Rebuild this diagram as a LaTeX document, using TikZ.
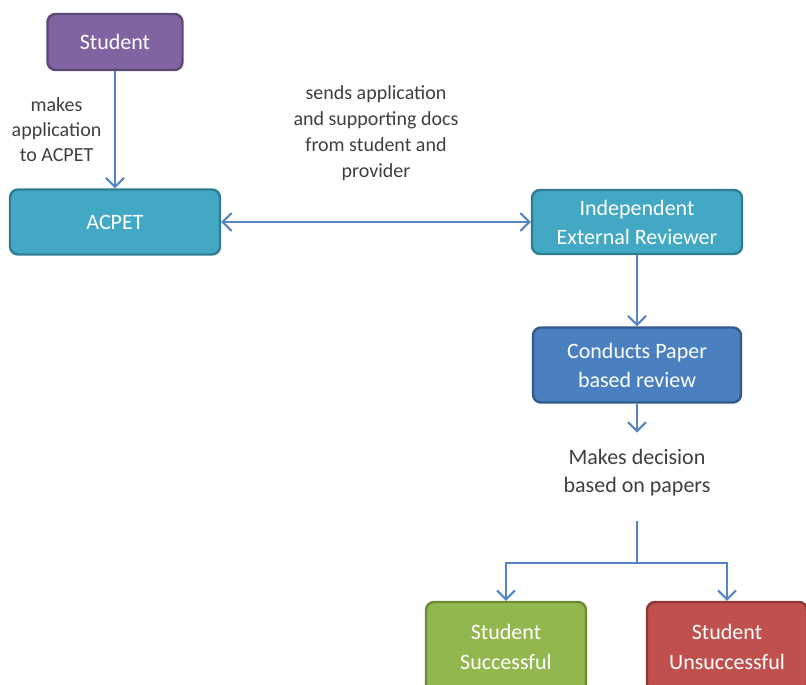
\documentclass[tikz,border=0pt]{standalone}
\usepackage{fontspec}
\setmainfont{Carlito}
\usetikzlibrary{positioning,arrows.meta}

\definecolor{stupurple}{HTML}{8064A2}
\definecolor{stupurpledark}{HTML}{5C4776}
\definecolor{acpetteal}{HTML}{43A8C4}
\definecolor{acpettealdark}{HTML}{2F7D92}
\definecolor{reviewblue}{HTML}{4A7FC0}
\definecolor{reviewbluedark}{HTML}{31598C}
\definecolor{succgreen}{HTML}{93B74F}
\definecolor{succgreendark}{HTML}{6C8B37}
\definecolor{failred}{HTML}{C0504D}
\definecolor{failreddark}{HTML}{8C3836}
\definecolor{flowblue}{HTML}{5585C4}
\definecolor{notegray}{HTML}{3F3F3F}

\begin{document}
\begin{tikzpicture}[x=0.5pt,y=-0.5pt,node distance=90pt,>={Straight Barb[length=4.5pt,width=9pt]}]
  \tikzstyle{every node}=[font=\fontsize{11}{14.5}\selectfont]
  \tikzstyle{box}=[draw,rounded corners=4pt,line width=1.2pt,text=white,align=center,inner sep=2pt]
  \tikzstyle{flow}=[draw=flowblue,line width=1pt]
  \tikzstyle{note}=[text=notegray,align=center]
  \useasboundingbox (0,0) rectangle (806,684);
  \clip (0,0) rectangle (806,684);
  \node[box,fill=stupurple,draw=stupurpledark,minimum width=67.5pt,minimum height=28pt] (student) at (115,42) {Student};
  \node[box,fill=acpetteal,draw=acpettealdark,minimum width=105pt,minimum height=32.5pt] (acpet) [below of=student] {ACPET};
  \node[box,fill=acpetteal,draw=acpettealdark,minimum width=105pt,minimum height=32pt] (ier) [right of=acpet,node distance=261pt] {Independent\\External Reviewer};
  \node[box,fill=reviewblue,draw=reviewbluedark,minimum width=104pt,minimum height=37.5pt] (review) [below of=ier,node distance=71.5pt] {Conducts Paper\\based review};
  \node[note,font=\fontsize{11}{14}\selectfont] (decision) [below of=review,node distance=54pt] {Makes decision\\based on papers};
  \coordinate (split) at (637,563);
  \node[box,fill=succgreen,draw=succgreendark,minimum width=80pt,minimum height=45pt,font=\fontsize{11}{15}\selectfont] (succ) at (506,647) {Student\\Successful};
  \node[box,fill=failred,draw=failreddark,minimum width=80pt,minimum height=45pt,font=\fontsize{11}{15}\selectfont] (unsucc) at (727,647) {Student\\Unsuccessful};
  \path[->,flow]
  (student) edge node[note,left=3pt,font=\fontsize{10}{12.5}\selectfont] {makes\\application\\to ACPET} (acpet)
  (acpet) edge[<->] node[note,above=17pt,font=\fontsize{10}{13}\selectfont] {sends application\\and supporting docs\\from student and\\provider} (ier)
  (ier) edge (review)
  (review) edge[shorten >=5pt] (decision)
  ;
  \draw[flow,shorten <=9pt] (decision) -- (split);
  \draw[flow,->] (split) -| (succ);
  \draw[flow,->] (split) -| (unsucc);
\end{tikzpicture}
\end{document}
